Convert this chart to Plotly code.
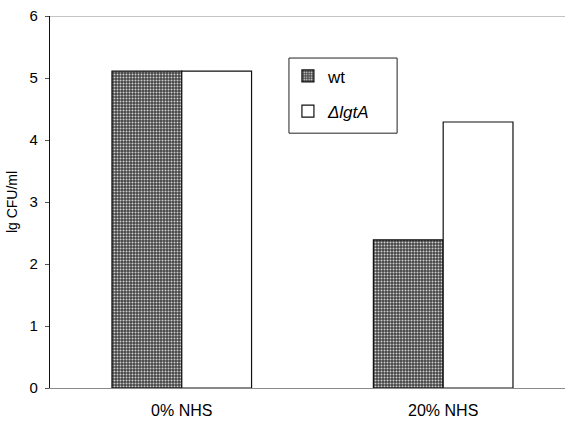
import plotly.graph_objects as go

categories = ["0% NHS", "20% NHS"]
wt_values = [5.11, 2.39]
dlgta_values = [5.11, 4.29]
series_names = ["wt", "<i>\u0394lgtA</i>"]
y_ticks = [0, 1, 2, 3, 4, 5, 6]

font = "Liberation Sans, Arial, sans-serif"

fig = go.Figure()
fig.add_trace(go.Bar(
    x=categories, y=wt_values, name=series_names[0],
    marker=dict(color="#6a6a6a",
                line=dict(color="#111111", width=1.2),
                pattern=dict(shape=".", fgcolor="#d0d0d0", bgcolor="#444444",
                             size=3, solidity=0.35, fillmode="replace")),
    legendgroup="a",
))
fig.add_trace(go.Bar(
    x=categories, y=dlgta_values, name=series_names[1],
    marker=dict(color="white", line=dict(color="#111111", width=1.2)),
    legendgroup="b",
))

# top frame line
fig.add_shape(type="line", xref="paper", yref="y", x0=0, x1=1, y0=6, y1=6,
              line=dict(color="#8a8a8a", width=1.2))
# legend frame
fig.add_shape(type="rect", xref="paper", yref="paper",
              x0=0.464, x1=0.674, y0=0.685, y1=0.887,
              line=dict(color="#222222", width=1), fillcolor="rgba(0,0,0,0)")

fig.update_layout(
    width=565, height=424,
    margin=dict(l=50, r=0, t=16, b=36),
    paper_bgcolor="white", plot_bgcolor="white",
    barmode="group", bargap=0.466, bargroupgap=0,
    font=dict(family=font, color="black"),
    showlegend=True,
    legend=dict(
        x=0.462, y=0.886, xanchor="left", yanchor="top",
        borderwidth=0, bgcolor="rgba(0,0,0,0)",
        font=dict(size=17, family=font),
        traceorder="grouped", tracegroupgap=10,
        itemwidth=30,
    ),
    xaxis=dict(
        range=[-0.504, 1.466], automargin=False,
        showline=True, linecolor="#8a8a8a", linewidth=1.2,
        ticks="", tickfont=dict(size=16, family=font), ticklabelstandoff=8,
        showgrid=False, zeroline=False,
    ),
    yaxis=dict(
        range=[0, 6], tickvals=y_ticks, automargin=False,
        showline=True, linecolor="#111111", linewidth=1.2,
        ticks="outside", ticklen=4, tickcolor="#555555",
        tickfont=dict(size=15, family=font), ticklabelstandoff=4,
        title=dict(text="lg CFU/ml", font=dict(size=14, family=font), standoff=8),
        showgrid=False, zeroline=False,
    ),
)

fig.write_html("out.html",
               config={"displayModeBar": False},
               post_script="document.body.style.margin='0';document.body.style.overflow='hidden';")
